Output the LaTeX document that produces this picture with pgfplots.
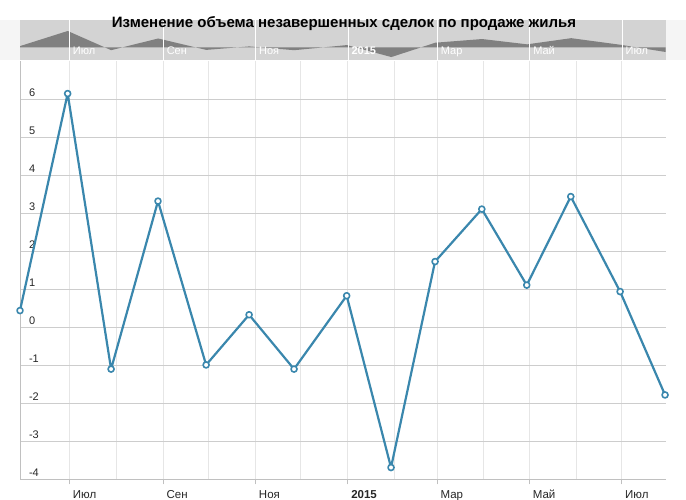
\documentclass[border=0pt]{standalone}
\usepackage{fontspec}
\setmainfont{Liberation Sans}
\usepackage{pgfplots}
\pgfplotsset{compat=1.18}

\definecolor{linecol}{RGB}{58,135,173}
\definecolor{navbg}{RGB}{211,211,211}
\definecolor{navarea}{RGB}{128,128,128}
\definecolor{vgrid}{RGB}{230,230,230}
\definecolor{hgrid}{RGB}{205,205,205}
\definecolor{axisline}{RGB}{192,192,192}

% x = days from 1 Jul 2014
\begin{document}
\begin{tikzpicture}[x=1pt,y=1pt]
\useasboundingbox (0,0) rectangle (686,500);
\fill[black!4] (0,440) rectangle (20,480);
\fill[black!4] (666,440) rectangle (686,480);

% navigator
\begin{axis}[
  at={(20pt,440pt)}, anchor=south west,
  width=646pt, height=40pt, scale only axis,
  xmin=-32.6, xmax=394, ymin=-4.8, ymax=10.3,
  axis background/.style={fill=navbg},
  axis line style={draw=none},
  ytick=\empty,
  xtick={0,62,123,184,243,304,365},
  xticklabels={Июл,Сен,Ноя,\textbf{2015},Мар,Май,Июл},
  xmajorgrids, major grid style={white, line width=1pt},
  tick style={draw=none},
  axis on top,
  xticklabel style={anchor=base west, yshift=5pt, text=white,
    font=\fontsize{11}{13}\selectfont},
]
\addplot[fill=navarea, draw=none] coordinates {
(-32.6,0) (-32.6,0.44) (-1.1,6.15) (27.6,-1.10) (58.6,3.32) (90.4,-0.99)
(118.8,0.33) (148.5,-1.10) (183.3,0.83) (212.6,-3.69) (241.7,1.73)
(272.6,3.11) (302.3,1.11) (331.4,3.44) (364,0.94) (393.7,-1.78) (393.7,0)
} \closedcycle;
\end{axis}

\node[anchor=base, font=\bfseries\fontsize{15}{18}\selectfont] at (344,472)
  {Изменение объема незавершенных сделок по продаже жилья};

% main chart
\begin{axis}[
  at={(20pt,20.7pt)}, anchor=south west,
  width=645.5pt, height=418pt, scale only axis,
  xmin=-32.6, xmax=394, ymin=-4, ymax=7,
  clip=false,
  axis x line*=bottom, axis y line*=left,
  axis line style={draw=axisline, line width=1pt},
  xtick={0,62,123,184,243,304,365},
  minor xtick={31,92,153,215,274,335},
  xticklabels={Июл,Сен,Ноя,\textbf{2015},Мар,Май,Июл},
  ytick={-4,-3,...,6},
  xmajorgrids, xminorgrids, ymajorgrids,
  major x grid style={vgrid, line width=1pt},
  minor x grid style={vgrid, line width=1pt},
  major y grid style={hgrid, line width=1pt},
  tick align=outside, major tick length=5pt, minor tick length=0pt,
  xtick style={draw=axisline, line width=1pt},
  ytick style={draw=none},
  /pgf/number format/assume math mode=true,
  xticklabel style={anchor=base west, yshift=-14pt, text=black!85,
    font=\fontsize{11.5}{13}\selectfont},
  yticklabel style={anchor=base west, xshift=10.5pt, yshift=3pt, text=black!85,
    font=\fontsize{11}{13}\selectfont},
]
\addplot[linecol, line width=2.2pt, line join=round, mark=*, mark size=3pt,
  mark options={fill=white, draw=linecol, line width=1.6pt}] coordinates {
(-32.6,0.44) (-1.1,6.15) (27.6,-1.10) (58.6,3.32) (90.4,-0.99)
(118.8,0.33) (148.5,-1.10) (183.3,0.83) (212.6,-3.69) (241.7,1.73)
(272.6,3.11) (302.3,1.11) (331.4,3.44) (364,0.94) (393.7,-1.78)
};
\end{axis}
\end{tikzpicture}
\end{document}
